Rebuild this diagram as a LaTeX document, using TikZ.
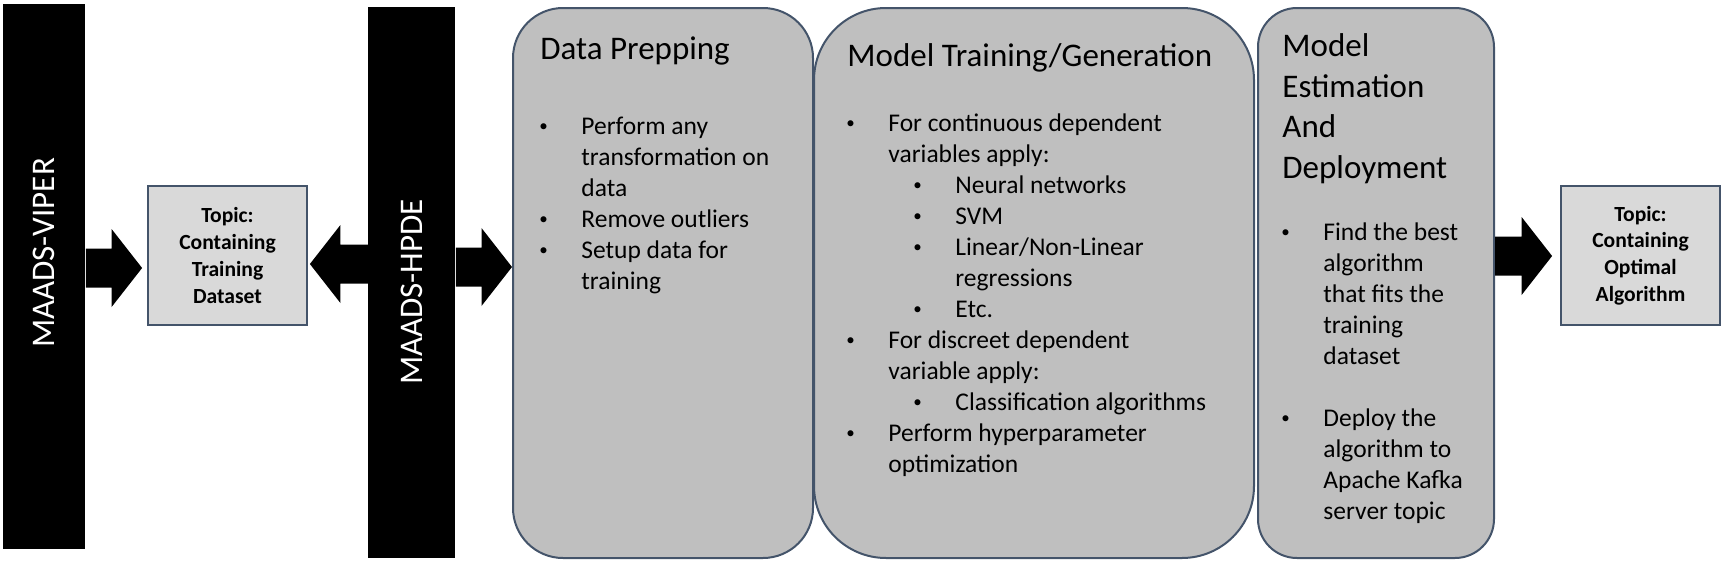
\documentclass[tikz,border=0pt]{standalone}
\usepackage{fontspec}
\setmainfont{Carlito}
\usetikzlibrary{calc}
\definecolor{slate}{HTML}{44546A}
\definecolor{stagegray}{HTML}{BFBFBF}
\definecolor{topicgray}{HTML}{D9D9D9}
\tikzset{
  bar/.style={fill=black,inner sep=0pt,anchor=north west},
  vlbl/.style={text=white,rotate=90,inner sep=0pt,font=\fontsize{16.5}{20}\selectfont},
  stage/.style={draw=slate,line width=1pt,fill=stagegray,inner sep=0pt,
    anchor=north west,minimum height=275pt},
  ttl/.style={anchor=north west,inner sep=0pt,align=left,font=\fontsize{16.5}{20.3}\selectfont},
  blist/.style={anchor=north west,inner sep=0pt,align=left,font=\fontsize{12.75}{15.5}\selectfont},
  topic/.style={draw=slate,line width=0.9pt,fill=topicgray,minimum width=79.5pt,
    minimum height=69.5pt,inner sep=0pt,align=center,
    font=\fontsize{10.8}{13.35}\selectfont\bfseries},
  blkarrow/.style={fill=black},
}
% bullets and hanging indents
\newcommand{\dotmark}{\hspace*{1pt}\raisebox{1.3pt}{\fontsize{8.5}{8.5}\selectfont\textbullet}}
\newcommand{\bulA}{\makebox[22pt][l]{\dotmark}}
\newcommand{\indA}{\hspace*{22pt}}
\newcommand{\bulB}{\hspace*{33.5pt}\makebox[22pt][l]{\dotmark}}
\newcommand{\indB}{\hspace*{55.5pt}}
% block arrow from tail #1 to tip #2 (horizontal)
\newcommand{\blockarr}[2]{%
  \fill[blkarrow] let \p1=(#1), \p2=(#2), \p3=($(\p2)!15.25pt!(\p1)$) in
    (\x1,\y1-9.75pt) -- (\x3,\y1-9.75pt) -- (\x3,\y1-19.5pt) -- (\x2,\y2)
    -- (\x3,\y1+19.5pt) -- (\x3,\y1+9.75pt) -- (\x1,\y1+9.75pt) -- cycle;}
\begin{document}
\begin{tikzpicture}[x=0.5pt,y=-0.5pt]
  \useasboundingbox (0,0) rectangle (1725,562);
  % producer and consumer bars
  \node[bar,minimum width=41pt,minimum height=272.5pt] (viper) at (3,4) {};
  \node[vlbl] (viperlbl) at (44,253) {MAADS-VIPER};
  \node[bar,minimum width=43.5pt,minimum height=275.5pt] (hpde) at (368,7) {};
  \node[vlbl] (hpdelbl) at (412,292) {MAADS-HPDE};
  % topics
  \node[topic] (tdata) at (227.5,255.5) {Topic:\\Containing\\Training\\Dataset};
  \node[topic] (optalg) at (1640.5,255.5) {Topic:\\Containing\\Optimal\\Algorithm};
  % stages
  \node[stage,minimum width=150pt,rounded corners=25pt] (prep) at (512,7) {};
  \node[stage,minimum width=220pt,rounded corners=36pt] (train) at (813,7) {};
  \node[stage,minimum width=118pt,rounded corners=19.5pt] (deploy) at (1257,7) {};
  \node[ttl] (prepttl) at (540,30.6) {\strut Data Prepping};
  \node[blist] (preplist) at (537,112.3) {\strut\bulA Perform any\\
    \indA transformation on\\
    \indA data\\
    \bulA Remove outliers\\
    \bulA Setup data for\\
    \indA training};
  \node[ttl] (trainttl) at (847,37.6) {\strut Model Training/Generation};
  \node[blist] (trainlist) at (844,109.3) {\strut\bulA For continuous dependent\\
    \indA variables apply:\\
    \bulB Neural networks\\
    \bulB SVM\\
    \bulB Linear/Non-Linear\\
    \indB regressions\\
    \bulB Etc.\\
    \bulA For discreet dependent\\
    \indA variable apply:\\
    \bulB Classification algorithms\\
    \bulA Perform hyperparameter\\
    \indA optimization};
  \node[ttl] (deployttl) at (1282,27.6) {\strut Model\\Estimation\\And\\Deployment};
  \node[blist] (deploylist) at (1279,218.3) {\strut\bulA Find the best\\
    \indA algorithm\\
    \indA that fits the\\
    \indA training\\
    \indA dataset\\[15.5pt]
    \bulA Deploy the\\
    \indA algorithm to\\
    \indA Apache Kafka\\
    \indA server topic};
  % block arrows
  \blockarr{viper.east |- 0,268}{[xshift=-2.5pt]tdata.west |- 0,268}
  \blockarr{hpde.west |- 0,264}{[xshift=1pt]tdata.east |- 0,264}
  \blockarr{hpde.east |- 0,267}{prep.west |- 0,267}
  \blockarr{deploy.east |- 0,256}{[xshift=-4pt]optalg.west |- 0,256}
\end{tikzpicture}
\end{document}
